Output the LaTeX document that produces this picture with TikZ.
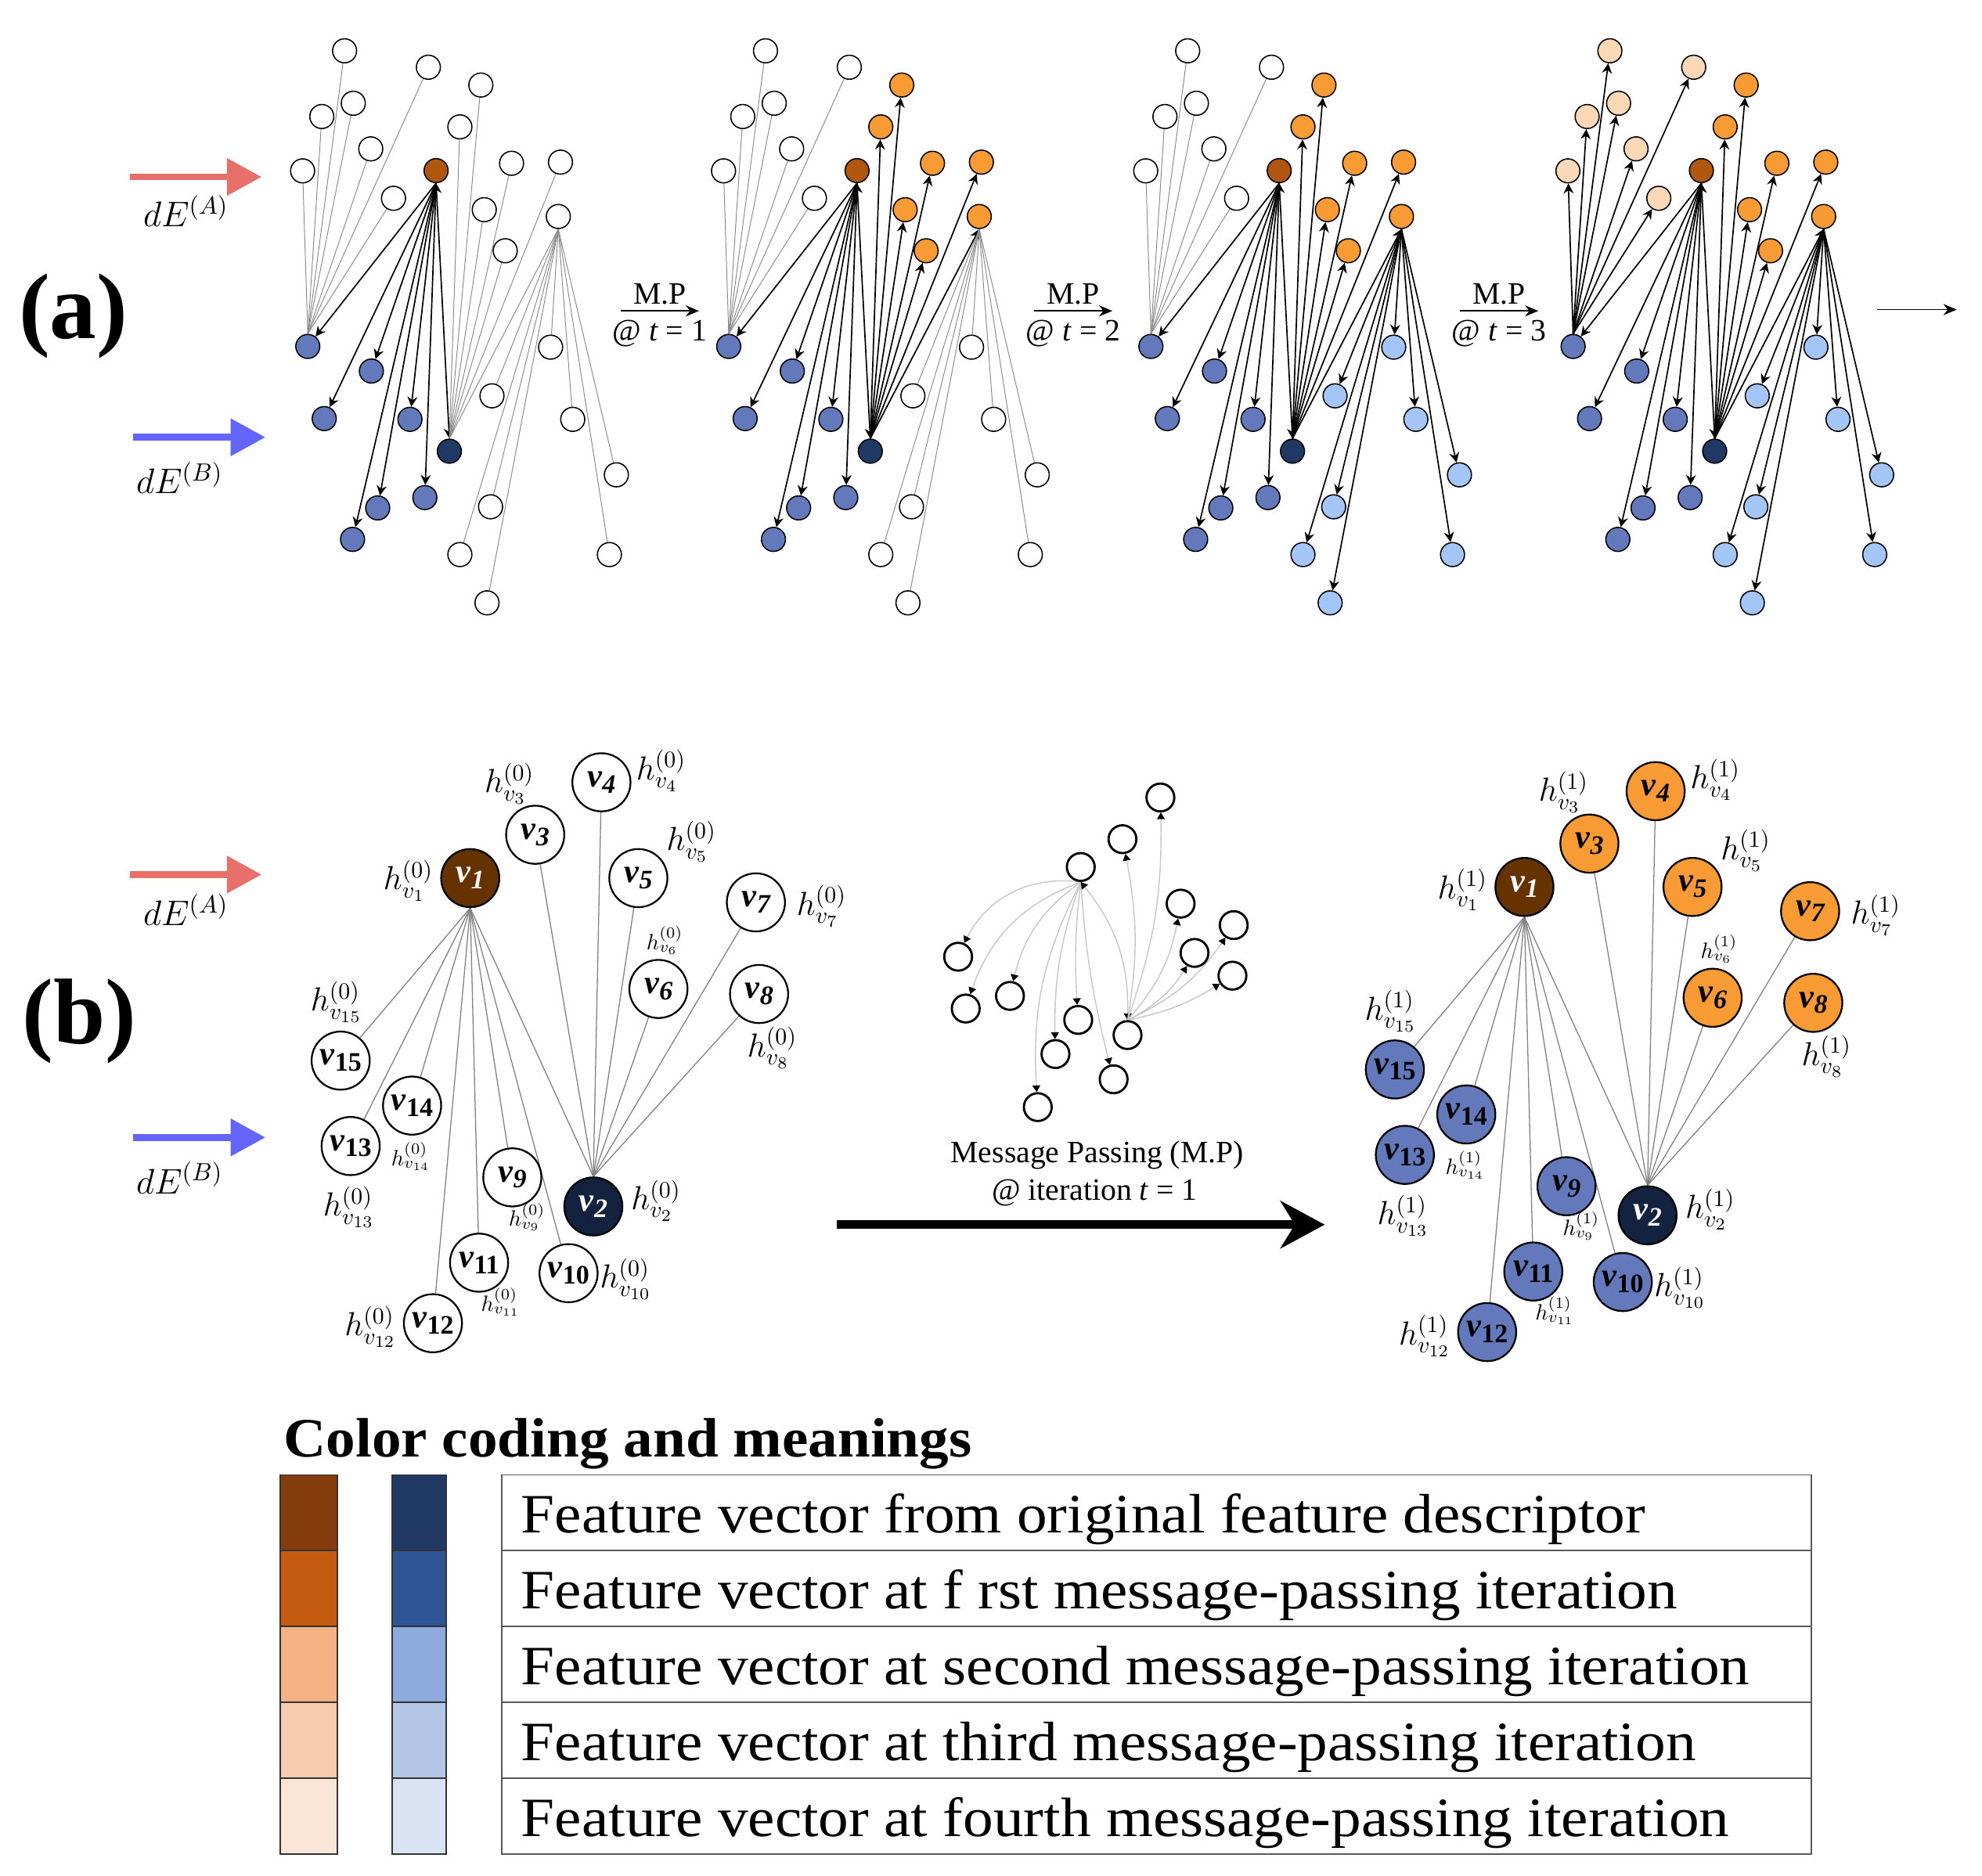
\RequirePackage{fix-cm}
\documentclass[tikz,border=0pt]{standalone}
\usepackage{fontspec}
\setmainfont{Liberation Serif}
\usetikzlibrary{arrows.meta, backgrounds}
\definecolor{rustA}{HTML}{B0560E}
\definecolor{navyA}{HTML}{1F3864}
\definecolor{blueA}{HTML}{6479BC}
\definecolor{skyA}{HTML}{A4C6F6}
\definecolor{orangeA}{HTML}{F99B35}
\definecolor{peachA}{HTML}{FBD9B6}
\definecolor{brownB}{HTML}{663300}
\definecolor{navyB}{HTML}{13223F}
\definecolor{feedA}{HTML}{E8706A}
\definecolor{feedB}{HTML}{6464FF}
\newcommand{\vlab}[1]{\textbf{\textit{v}\raisebox{-0.4ex}{\fontsize{12}{12}\selectfont\ifnum#1>9 \upshape\else\itshape\fi #1}}}
\newcommand{\hlab}[2]{$h_{v_{#1}}^{(#2)}$}
\begin{document}
\begin{tikzpicture}[x=0.02cm,y=-0.02cm,
	dot/.style={circle,draw=black,line width=0.55pt,minimum size=0.38cm,inner sep=0pt},
	faint/.style={draw=black!45,line width=0.35pt},
	msg/.style={draw=black,line width=0.6pt,-{Stealth[length=4.5pt,width=4.5pt]}},
	duo/.style={msg,{Stealth[length=4.5pt,width=4.5pt]}-{Stealth[length=4.5pt,width=4.5pt]}},
	feed/.style={line width=3pt,-{Triangle[length=0.55cm,width=0.57cm]}},
	mp/.style={line width=0.6pt,-{Stealth[length=6pt,width=5pt]}},
	mptext/.style={inner sep=0pt,font=\fontsize{14}{14}\selectfont},
	vert/.style={circle,draw=black,line width=0.8pt,minimum size=0.92cm,inner sep=0pt,font=\fontsize{15}{15}\selectfont},
	link/.style={draw=black!50,line width=0.45pt},
	hbig/.style={inner sep=0pt,font=\fontsize{15}{15}\selectfont},
	hsmall/.style={inner sep=0pt,font=\fontsize{10}{10}\selectfont},
	mini/.style={circle,draw=black,line width=1pt,minimum size=0.44cm,inner sep=0pt,fill=white},
	pass/.style={draw=black!22,line width=0.5pt,-{Triangle[length=3pt,width=3.5pt,color=black]}},
	bigarrow/.style={line width=4pt,-{Stealth[length=0.7cm,width=0.75cm]}},
	panel/.style={inner sep=0pt,font=\fontsize{42}{42}\selectfont\bfseries},
	delta/.style={inner sep=0pt,font=\fontsize{16}{16}\selectfont},
	cell/.style={draw=black!65,line width=0.7pt},
	legtext/.style={anchor=base west,inner sep=0pt,font=\fontsize{25}{25}\selectfont}]
\useasboundingbox (0,0) rectangle (1568,1484);

% (a) message passing over four iterations
\node[panel] (pa) at (58,250) {(a)};
\coordinate (fa1) at (103,140); \coordinate (fa2) at (207,140);
\coordinate (fb1) at (105,346); \coordinate (fb2) at (210,346);
\draw[feed,feedA] (fa1) -- (fa2);
\draw[feed,feedB] (fb1) -- (fb2);
\node[delta] (dea) at (147,167) {$dE^{(A)}$};
\node[delta] (deb) at (142,378) {$dE^{(B)}$};
\foreach \p/\dx/\cur/\clr/\cul/\eur/\elr/\eul in {1/0/white/white/white/faint/faint/faint,
		2/333/orangeA/white/white/msg/faint/faint,
		3/667/orangeA/skyA/white/msg/msg/faint,
		4/1001/orangeA/skyA/peachA/msg/msg/msg}{
	\begin{scope}[shift={(\dx,0)}]
		\node[dot,fill=rustA] (a\p-v1) at (345,135) {};
		\node[dot,fill=navyA] (a\p-v2) at (355.5,357) {};
		\node[dot,fill=\cur] (a\p-hub) at (441.7,171.3) {};
		\foreach \x/\y [count=\i] in {272.6/40.2,338.9/53.2,279.5/81.7,254.6/92.2,293.3/117.8,239.4/135.2,311.3/156.9}
			\node[dot,fill=\cul] (a\p-ul\i) at (\x,\y) {};
		\foreach \x/\y [count=\i] in {380.4/67.3,363.8/100.4,404.7/129.2,443.4/128.3,383.1/165.9,399.7/198.4}
			\node[dot,fill=\cur] (a\p-ur\i) at (\x,\y) {};
		\foreach \x/\y [count=\i] in {243.5/274.1,293.8/293.6,256.5/331.2,324.3/331.8,298.8/401.9,336.1/393.7,278.9/426.8}
			\node[dot,fill=blueA] (a\p-bl\i) at (\x,\y) {};
		\foreach \x/\y [count=\i] in {435.6/274.7,389.2/313.2,453.1/331.8,487.6/375.7,388.1/401.0,363.8/438.8,482.1/438.8,385.3/477.0}
			\node[dot,fill=\clr] (a\p-lr\i) at (\x,\y) {};
		\begin{scope}[on background layer]
			\foreach \i in {1,...,7} \draw[msg] (a\p-v1.south) -- (a\p-bl\i);
			\draw[duo] (a\p-v1.south) -- (a\p-v2.north);
			\foreach \i in {1,...,6} \draw[\eur] (a\p-v2.north) -- (a\p-ur\i);
			\draw[\eur] (a\p-v2.north) -- (a\p-hub.south);
			\foreach \i in {1,...,8} \draw[\elr] (a\p-hub.south) -- (a\p-lr\i);
			\foreach \i in {1,...,7} \draw[\eul] (a\p-bl1.north) -- (a\p-ul\i);
		\end{scope}
	\end{scope}
}
\foreach \cx/\t in {522/1,849/2,1186/3}{
	\coordinate (mpa\t) at (\cx-31,246); \coordinate (mpb\t) at (\cx+31,246);
	\draw[mp] (mpa\t) -- (mpb\t);
	\node[mptext] (mpt\t) at (\cx,233) {M.P};
	\node[mptext] (mpu\t) at (\cx,264) {@ \textit{t} = \t};
}
\coordinate (enda) at (1485,245); \coordinate (endb) at (1548,245);
\draw[mp] (enda) -- (endb);

% (b) one iteration in detail
\node[panel] (pb) at (63,808) {(b)};
\coordinate (fc1) at (103,692); \coordinate (fc2) at (207,692);
\coordinate (fd1) at (105,900); \coordinate (fd2) at (210,900);
\draw[feed,feedA] (fc1) -- (fc2);
\draw[feed,feedB] (fd1) -- (fd2);
\node[delta] (dec) at (147,720) {$dE^{(A)}$};
\node[delta] (ded) at (142,932) {$dE^{(B)}$};
\foreach \side/\dx/\dy/\k/\colup/\collow in {L/0/0/0/white/white, R/834/7/1/orangeA/blueA}{
	\begin{scope}[shift={(\dx,\dy)}]
		\node[vert,fill=brownB,text=white] (\side1) at (372,694.8) {\vlab{1}};
		\node[vert,fill=navyB,text=white] (\side2) at (469.4,954.6) {\vlab{2}};
		\foreach \n/\x/\y in {3/423.4/660.5,4/475.8/619,5/505/694.8,6/520.9/782.5,7/598/714,8/600.5/786.5}
			\node[vert,fill=\colup] (\side\n) at (\x,\y) {\vlab{\n}};
		\foreach \n/\x/\y in {9/405.3/931.6,10/449.8/1007.4,11/379/999.1,12/342.5/1047,13/277.4/906.8,14/326/874.8,15/269.5/839.2}
			\node[vert,fill=\collow] (\side\n) at (\x,\y) {\vlab{\n}};
		\foreach \n/\x/\y in {1/323/697,2/519/950,3/403/620,4/523/610,5/547/666,7/650/717,8/611/829,10/495/1012,12/293/1050,13/276/955,15/266/793}
			\node[hbig] (h\side\n) at (\x,\y) {\hlab{\n}{\k}};
		\foreach \n/\x/\y in {6/526/744,9/417/963,11/396/1030,14/325/915}
			\node[hsmall] (h\side\n) at (\x,\y) {\hlab{\n}{\k}};
		\begin{scope}[on background layer]
			\foreach \n in {9,...,15} \draw[link] (\side1.south) -- (\side\n);
			\draw[link] (\side1.south) -- (\side2.north);
			\foreach \n in {3,...,8} \draw[link] (\side2.north) -- (\side\n);
		\end{scope}
	\end{scope}
}

% small message passing sketch
\node[mini] (m1) at (855,686) {};
\node[mini] (m2) at (892,819) {};
\foreach \n/\x/\y in {3/758/757,4/764/798,5/799/788,6/853/807,7/835/834,8/881/854,9/821/876,
		10/888/664,11/918/631,12/934/715,13/945/754,14/976/732,15/975/772}
	\node[mini] (m\n) at (\x,\y) {};
\begin{scope}[on background layer]
	\foreach \n/\b in {3/35,4/25,5/20,6/5,7/10,8/5,9/15}
		\draw[pass] (m1.south) to[bend right=\b] (m\n);
	\draw[pass,{Triangle[length=3pt,width=3.5pt,color=black]}-{Triangle[length=3pt,width=3.5pt,color=black]}] (m1.south) to[bend left=20] (m2.north);
	\foreach \n/\b in {10/10,11/10,12/15,13/15,14/15,15/10}
		\draw[pass] (m2.north) to[bend right=\b] (m\n);
\end{scope}
\node[mptext] (cap1) at (868,914) {Message Passing (M.P)};
\node[mptext] (cap2) at (866,944) {@ iteration \textit{t} = 1};
\coordinate (biga) at (662,969); \coordinate (bigb) at (1048,969);
\draw[bigarrow] (biga) -- (bigb);

% colour legend
\node[anchor=base west,inner sep=0pt,font=\fontsize{25}{25}\selectfont\bfseries] (legtitle) at (224,1153) {\scalebox{1.06}[1]{Color coding and meanings}};
\foreach \ca/\cb/\txt [count=\j from 0] in {843C0C/1F3864/Feature vector from original feature descriptor,
		C55A11/2F5597/Feature vector at f rst message-passing iteration,
		F4B183/8FAADC/Feature vector at second message-passing iteration,
		F8CBAD/B4C7E7/Feature vector at third message-passing iteration,
		FBE5D6/DAE3F3/Feature vector at fourth message-passing iteration}{
	\pgfmathsetmacro\ya{1167+60*\j}
	\pgfmathsetmacro\yb{1227+60*\j}
	\definecolor{swA}{HTML}{\ca}
	\definecolor{swB}{HTML}{\cb}
	\fill[swA] (222,\ya) rectangle (267,\yb);
	\fill[swB] (310,\ya) rectangle (353,\yb);
	\draw[cell,draw=black!80] (222,\ya) rectangle (267,\yb);
	\draw[cell,draw=black!80] (310,\ya) rectangle (353,\yb);
	\draw[cell] (397,\ya) rectangle (1433,\yb);
	\node[legtext] (leg\j) at (412,\ya+46) {\scalebox{1.09}[1]{\txt}};
}
\end{tikzpicture}
\end{document}
